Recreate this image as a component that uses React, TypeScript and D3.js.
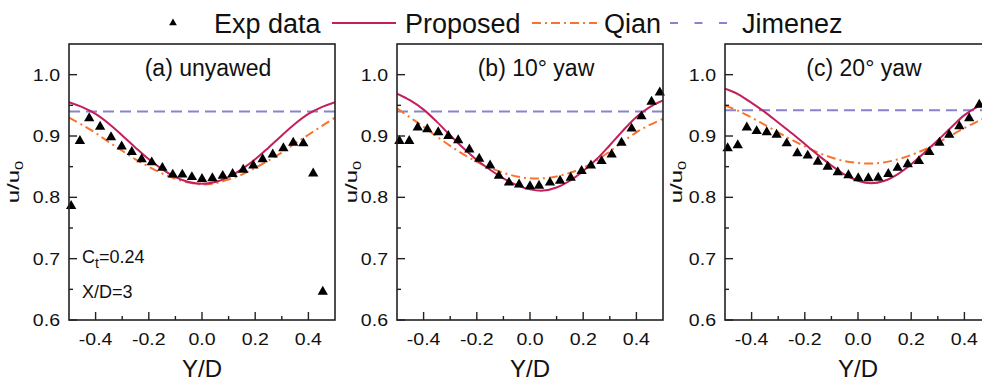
import React, { useRef, useEffect } from "react";
import * as d3 from "d3";

const curveX = [-0.5, -0.45, -0.4, -0.35, -0.3, -0.25, -0.2, -0.15, -0.1, -0.05, 0,
  0.05, 0.1, 0.15, 0.2, 0.25, 0.3, 0.35, 0.4, 0.45, 0.5];

const proposedA = [0.955, 0.947, 0.936, 0.920, 0.901, 0.881, 0.862, 0.846, 0.833, 0.825, 0.822,
  0.825, 0.833, 0.846, 0.862, 0.881, 0.901, 0.920, 0.936, 0.947, 0.955];
const qianA = [0.930, 0.918, 0.905, 0.890, 0.876, 0.862, 0.850, 0.839, 0.830, 0.824, 0.821,
  0.823, 0.829, 0.837, 0.848, 0.860, 0.873, 0.888, 0.902, 0.916, 0.930];

const proposedB = [0.969, 0.958, 0.943, 0.923, 0.901, 0.880, 0.861, 0.845, 0.831, 0.820, 0.813,
  0.811, 0.816, 0.827, 0.843, 0.862, 0.885, 0.909, 0.931, 0.947, 0.958];
const qianB = [0.945, 0.930, 0.915, 0.899, 0.884, 0.870, 0.858, 0.848, 0.840, 0.834, 0.831,
  0.831, 0.834, 0.840, 0.848, 0.860, 0.875, 0.891, 0.906, 0.918, 0.928];

const proposedC = [0.977, 0.968, 0.954, 0.939, 0.922, 0.905, 0.887, 0.869, 0.852, 0.837, 0.827,
  0.823, 0.827, 0.838, 0.854, 0.873, 0.893, 0.914, 0.934, 0.948, 0.958];
const qianC = [0.950, 0.941, 0.930, 0.918, 0.906, 0.894, 0.883, 0.873, 0.865, 0.859, 0.856,
  0.855, 0.857, 0.862, 0.869, 0.878, 0.889, 0.901, 0.913, 0.924, 0.934];

const jimenez = [0.940, 0.940, 0.942];

// experimental points
const expAx = [-0.492, -0.459, -0.424, -0.383, -0.342, -0.302, -0.264, -0.227, -0.189, -0.149, -0.110, -0.074, -0.038,
  0.0, 0.039, 0.078, 0.115, 0.155, 0.193, 0.228, 0.266, 0.306, 0.343, 0.381, 0.418, 0.454];
const expAy = [0.786, 0.892, 0.929, 0.915, 0.898, 0.883, 0.874, 0.862, 0.857, 0.848, 0.837, 0.837, 0.833,
  0.830, 0.831, 0.835, 0.838, 0.845, 0.852, 0.862, 0.870, 0.880, 0.889, 0.888, 0.839, 0.646];

const expBx = [-0.491, -0.454, -0.422, -0.386, -0.345, -0.307, -0.270, -0.228, -0.191, -0.150, -0.117, -0.079, -0.041,
  0.0, 0.034, 0.075, 0.113, 0.153, 0.194, 0.229, 0.269, 0.307, 0.344, 0.382, 0.419, 0.457, 0.488];
const expBy = [0.892, 0.892, 0.914, 0.911, 0.906, 0.900, 0.893, 0.878, 0.863, 0.852, 0.835, 0.824, 0.821,
  0.818, 0.819, 0.824, 0.827, 0.832, 0.843, 0.852, 0.859, 0.870, 0.889, 0.912, 0.932, 0.956, 0.971];

const expCx = [-0.490, -0.452, -0.418, -0.381, -0.343, -0.306, -0.268, -0.228, -0.189, -0.151, -0.114, -0.076, -0.036,
  0.001, 0.039, 0.076, 0.114, 0.149, 0.187, 0.229, 0.268, 0.306, 0.343, 0.381, 0.418, 0.456, 0.493];
const expCy = [0.880, 0.885, 0.914, 0.908, 0.906, 0.902, 0.888, 0.872, 0.868, 0.858, 0.850, 0.841, 0.836,
  0.831, 0.831, 0.832, 0.838, 0.848, 0.854, 0.859, 0.874, 0.889, 0.902, 0.916, 0.929, 0.951, 0.972];

const titles = ["(a) unyawed", "(b) 10\u00b0 yaw", "(c) 20\u00b0 yaw"];
const xTicks = [-0.4, -0.2, 0, 0.2, 0.4];
const xMinor = [-0.3, -0.1, 0.1, 0.3];
const yTicks = [0.6, 0.7, 0.8, 0.9, 1.0];
const yMinor = [0.65, 0.75, 0.85, 0.95];

const PINK = "#C41E5C";
const ORANGE = "#F8742C";
const PURPLE = "#8783CC";

function App() {
  const svgRef = useRef(null);

  useEffect(() => {
    const W = 982, H = 383;
    const svg = d3.select(svgRef.current);
    svg.selectAll("*").remove();
    svg.attr("width", W).attr("height", H);

    const panels = [
      { prop: proposedA, qian: qianA, jim: jimenez[0], ex: expAx, ey: expAy, left: 69, labOff: 50 },
      { prop: proposedB, qian: qianB, jim: jimenez[1], ex: expBx, ey: expBy, left: 397, labOff: 40 },
      { prop: proposedC, qian: qianC, jim: jimenez[2], ex: expCx, ey: expCy, left: 725, labOff: 43 },
    ];
    const pw = 266, top = 44, bottom = 320;
    const font = "'Liberation Sans', Arial, sans-serif";

    const y = d3.scaleLinear().domain([0.6, 1.05]).range([bottom, top]);
    const tri = d3.symbol().type(d3.symbolTriangle).size(46);

    panels.forEach((p, i) => {
      const x = d3.scaleLinear().domain([-0.5, 0.5]).range([p.left, p.left + pw]);
      const g = svg.append("g");

      const clipId = "clip" + i;
      g.append("clipPath").attr("id", clipId)
        .append("rect").attr("x", p.left).attr("y", top).attr("width", pw).attr("height", bottom - top);

      const plot = g.append("g").attr("clip-path", `url(#${clipId})`);
      const line = d3.line().x((d) => x(d[0])).y((d) => y(d[1])).curve(d3.curveCatmullRom);

      // Jimenez: flat dashed
      plot.append("line")
        .attr("x1", x(-0.5)).attr("x2", x(0.5))
        .attr("y1", y(p.jim)).attr("y2", y(p.jim))
        .attr("stroke", PURPLE).attr("stroke-width", 2).attr("stroke-dasharray", "11,6");

      plot.append("path")
        .attr("d", line(curveX.map((v, k) => [v, p.qian[k]])))
        .attr("fill", "none").attr("stroke", ORANGE).attr("stroke-width", 2)
        .attr("stroke-dasharray", "9,4,2,4");

      plot.append("path")
        .attr("d", line(curveX.map((v, k) => [v, p.prop[k]])))
        .attr("fill", "none").attr("stroke", PINK).attr("stroke-width", 2);

      g.selectAll(".pt").data(p.ex.map((v, k) => [v, p.ey[k]])).join("path")
        .attr("transform", (d) => `translate(${x(d[0])},${y(d[1])})`)
        .attr("d", tri).attr("fill", "#000");

      // frame
      g.append("rect").attr("x", p.left).attr("y", top).attr("width", pw).attr("height", bottom - top)
        .attr("fill", "none").attr("stroke", "#222").attr("stroke-width", 1.6);

      // inward ticks
      const tk = g.append("g").attr("stroke", "#222").attr("stroke-width", 1.4);
      xTicks.forEach((t) => tk.append("line").attr("x1", x(t)).attr("x2", x(t)).attr("y1", bottom).attr("y2", bottom - 8));
      xMinor.forEach((t) => tk.append("line").attr("x1", x(t)).attr("x2", x(t)).attr("y1", bottom).attr("y2", bottom - 4));
      yTicks.forEach((t) => tk.append("line").attr("x1", p.left).attr("x2", p.left + 8).attr("y1", y(t)).attr("y2", y(t)));
      yMinor.forEach((t) => tk.append("line").attr("x1", p.left).attr("x2", p.left + 4).attr("y1", y(t)).attr("y2", y(t)));

      xTicks.forEach((t) => {
        g.append("text").attr("transform", `translate(${x(t)},${bottom + 25}) scale(1.15,1)`)
          .attr("text-anchor", "middle").attr("font-family", font).attr("font-size", 17).attr("fill", "#111")
          .text(t.toFixed(1));
      });
      yTicks.forEach((t) => {
        g.append("text").attr("transform", `translate(${p.left - 9},${y(t) + 6}) scale(1.15,1)`)
          .attr("text-anchor", "end").attr("font-family", font).attr("font-size", 17).attr("fill", "#111")
          .text(t.toFixed(1));
      });

      g.append("text").attr("x", p.left + pw / 2).attr("y", 377)
        .attr("text-anchor", "middle").attr("font-family", font).attr("font-size", 24).attr("fill", "#111")
        .text("Y/D");

      const yl = g.append("text")
        .attr("transform", `translate(${p.left - p.labOff},${(top + bottom) / 2}) rotate(-90) scale(1.5,1)`)
        .attr("text-anchor", "middle").attr("font-family", font).attr("font-size", 16).attr("fill", "#111");
      yl.append("tspan").text("u/u");
      yl.append("tspan").attr("font-size", 11).attr("dy", 4).text("0");

      g.append("text").attr("x", p.left + pw / 2 + 6).attr("y", 76)
        .attr("text-anchor", "middle").attr("font-family", font).attr("font-size", 23).attr("fill", "#111")
        .text(titles[i]);

      if (i === 0) {
        const ct = g.append("text").attr("x", 82).attr("y", 263)
          .attr("font-family", font).attr("font-size", 18).attr("fill", "#111");
        ct.append("tspan").text("C");
        ct.append("tspan").attr("font-size", 14).attr("dy", 5).text("t");
        ct.append("tspan").attr("dy", -5).text("=0.24");
        g.append("text").attr("x", 82).attr("y", 298)
          .attr("font-family", font).attr("font-size", 18).attr("fill", "#111").text("X/D=3");
      }
    });

    // legend
    const lg = svg.append("g").attr("font-family", font).attr("font-size", 27).attr("fill", "#111");
    const ly = 23, lb = 33;
    lg.append("path").attr("transform", `translate(173,${ly})`)
      .attr("d", d3.symbol().type(d3.symbolTriangle).size(26)()).attr("fill", "#000");
    lg.append("text").attr("x", 214).attr("y", lb).text("Exp data");
    lg.append("line").attr("x1", 332).attr("x2", 396).attr("y1", ly).attr("y2", ly)
      .attr("stroke", PINK).attr("stroke-width", 2);
    lg.append("text").attr("x", 405).attr("y", lb).text("Proposed");
    lg.append("line").attr("x1", 532).attr("x2", 597).attr("y1", ly).attr("y2", ly)
      .attr("stroke", ORANGE).attr("stroke-width", 2).attr("stroke-dasharray", "9,4,2,4");
    lg.append("text").attr("x", 604).attr("y", lb).text("Qian");
    lg.append("line").attr("x1", 670).attr("x2", 727).attr("y1", ly).attr("y2", ly)
      .attr("stroke", PURPLE).attr("stroke-width", 2).attr("stroke-dasharray", "8,16.5");
    lg.append("text").attr("x", 742).attr("y", lb).text("Jimenez");
  }, []);

  return (
    <svg ref={svgRef} style={{ position: "absolute", left: 0, top: 0, background: "#fff" }}></svg>
  );
}

export default App;
